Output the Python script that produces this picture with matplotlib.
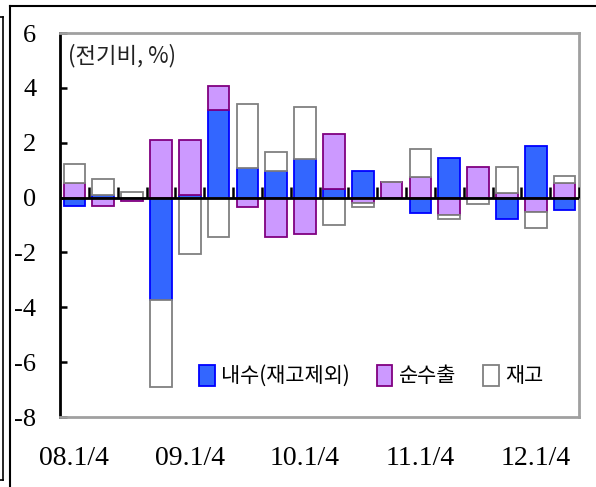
import matplotlib
matplotlib.use("Agg")
import matplotlib.pyplot as plt
from matplotlib.lines import Line2D
from matplotlib.patches import Patch
import numpy as np

plt.rcParams['axes.unicode_minus'] = False

quarters = ["08.1/4", "08.2/4", "08.3/4", "08.4/4",
            "09.1/4", "09.2/4", "09.3/4", "09.4/4",
            "10.1/4", "10.2/4", "10.3/4", "10.4/4",
            "11.1/4", "11.2/4", "11.3/4", "11.4/4",
            "12.1/4", "12.2/4"]
domestic = [-0.32, 0.10, 0.0, -3.72, 0.10, 3.18, 1.08, 0.97, 1.40, 0.31, 0.98, 0.0,
            -0.56, 1.44, 0.0, -0.79, 1.88, -0.46]
net_export = [0.53, -0.32, -0.12, 2.09, 2.00, 0.88, -0.33, -1.43, -1.31, 2.01, -0.18, 0.55,
              0.75, -0.65, 1.12, 0.18, -0.54, 0.52]
inventory = [0.70, 0.56, 0.22, -3.20, -2.05, -1.43, 2.32, 0.68, 1.90, -1.00, -0.16, 0.0,
             1.03, -0.13, -0.22, 0.93, -0.57, 0.26]
series_names = ["내수(재고제외)", "순수출", "재고"]
shown_labels = ["08.1/4", "09.1/4", "10.1/4", "11.1/4", "12.1/4"]
yticks = [-8, -6, -4, -2, 0, 2, 4, 6]

fills = ["#3366FF", "#CC99FF", "#FFFFFF"]
edges = ["#0000FF", "#800080", "#808080"]

num_font = ["Liberation Serif", "Noto Sans CJK KR"]
kr_font = ["Noto Sans CJK KR", "Liberation Serif"]

W, H = 596, 487
fig = plt.figure(figsize=(W / 100, H / 100), dpi=100)
ax = fig.add_axes([60 / W, 1 - 417 / H, (579 - 60) / W, (417 - 33) / H])

x = np.arange(len(quarters))
pos = np.zeros(len(x))
neg = np.zeros(len(x))
for vals, fc, ec in zip([domestic, net_export, inventory], fills, edges):
    v = np.array(vals, dtype=float)
    bottom = np.where(v >= 0, pos, neg)
    ax.bar(x, v, width=0.75, bottom=bottom, color=fc, edgecolor=ec, linewidth=1.3, zorder=2)
    pos = pos + np.where(v >= 0, v, 0)
    neg = neg + np.where(v < 0, v, 0)

ax.set_xlim(-0.5, len(x) - 0.5)
ax.set_ylim(-8, 6)

# zero line with upward ticks at category boundaries
ax.axhline(0, color="black", linewidth=2, zorder=3)
bounds = np.arange(len(x)) + 0.5
ax.plot(bounds, np.zeros(len(bounds)), ls="none", marker=2, markersize=8,
        markeredgewidth=1.8, color="black", zorder=3)

for s in ["top", "right", "bottom"]:
    ax.spines[s].set_color("#A0A0A0")
    ax.spines[s].set_linewidth(2)
ax.spines["left"].set_color("black")
ax.spines["left"].set_linewidth(2)

ax.set_yticks(yticks)
ax.set_yticklabels([str(t) for t in yticks], fontfamily=num_font, fontsize=19)
ax.tick_params(axis="y", direction="in", length=5, width=1.8, pad=17)

idx = [quarters.index(q) for q in shown_labels]
ax.set_xticks(idx)
ax.set_xticklabels(shown_labels, fontfamily=num_font, fontsize=20)
ax.tick_params(axis="x", length=0, pad=21)

ax.text(0.015, 0.94, "(전기비, %)", transform=ax.transAxes, fontsize=16,
        family=kr_font, va="center", ha="left", color="#222222")

handles = [Patch(facecolor=fc, edgecolor=ec, linewidth=1.3) for fc, ec in zip(fills, edges)]
leg = ax.legend(handles, series_names, ncol=3, loc="lower right",
                bbox_to_anchor=(0.955, 0.045), frameon=False,
                prop={"family": kr_font, "size": 15},
                handlelength=0.75, handleheight=1.2, handletextpad=0.3,
                columnspacing=1.3, borderaxespad=0.2)

# outer frame lines
fig.add_artist(Line2D([10 / W, 10 / W], [0, 1 - 6 / H], color="black", lw=1.5))
fig.add_artist(Line2D([10 / W, 1], [1 - 6 / H, 1 - 6 / H], color="black", lw=1.5))
fig.add_artist(Line2D([2.5 / W, 2.5 / W], [1 - 480 / H, 1 - 17 / H], color="black", lw=1.2))
fig.add_artist(Line2D([0, 2.5 / W], [1 - 17 / H, 1 - 17 / H], color="black", lw=1.2))
fig.add_artist(Line2D([0, 2.5 / W], [1 - 480 / H, 1 - 480 / H], color="black", lw=1.2))

fig.savefig("out.png", dpi=100)
